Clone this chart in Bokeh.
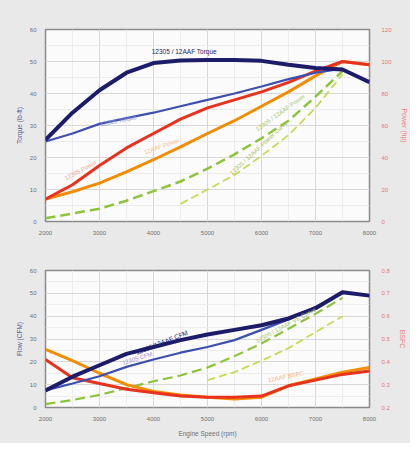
from bokeh.plotting import figure
from bokeh.layouts import column
from bokeh.models import Range1d, LinearAxis, FixedTicker
from bokeh.core.properties import value
from bokeh.embed import file_html
from bokeh.resources import INLINE

# ---------------- data ----------------
rpm = [2000, 2500, 3000, 3500, 4000, 4500, 5000, 5500, 6000, 6500, 7000, 7500, 8000]
x_ticks = [2000, 3000, 4000, 5000, 6000, 7000, 8000]

# top chart (torque, lb-ft on left; power, hp on right)
torque_combo = [25.5, 34, 41, 46.5, 49.5, 50.3, 50.5, 50.5, 50.2, 49, 48, 47.5, 43.5]
torque_12305 = [25, 27.5, 30.5, 32.3, 34, 36, 38, 40, 42.2, 44.5, 46.5, 47.8]
power_12305 = [14, 23, 35, 46, 55, 64, 71, 76, 81, 87, 94, 100, 98]
power_12aaf = [14, 18.6, 24, 31, 38.6, 46.6, 55, 63, 72, 81, 91, 100, 98]
rpm_curve_a = [2000, 2500, 3000, 3500, 4000, 4500, 5000, 5500, 6000, 6500, 7000, 7500]
power_curve_a = [2, 5, 8, 13, 19, 25, 33, 42, 52, 63, 78, 94]
rpm_curve_b = [4500, 5000, 5500, 6000, 6500, 7000, 7500]
power_curve_b = [11, 20, 29, 41, 54, 71, 92]

# bottom chart (flow on left; BSFC on right)
flow_combo = [7.5, 13.5, 18.5, 23.5, 26.5, 29.5, 32, 34, 36, 39, 43.5, 50.5, 49]
flow_12305 = [7.5, 10.5, 13.7, 17.8, 21, 24, 26.5, 29.5, 34, 38.5, 44, 50]
flow_curve_a = [1.5, 3.3, 5.5, 8.5, 11.5, 14, 17.5, 22.5, 28, 34.5, 41, 48]
rpm_flow_b = [5000, 5500, 6000, 6500, 7000, 7500]
flow_curve_b = [12, 15.5, 20.5, 26, 33, 40]
bsfc_12aaf = [0.455, 0.405, 0.35, 0.30, 0.27, 0.255, 0.245, 0.237, 0.245, 0.295, 0.325, 0.355, 0.375]
bsfc_12305 = [0.41, 0.33, 0.305, 0.28, 0.265, 0.25, 0.245, 0.245, 0.25, 0.295, 0.32, 0.345, 0.36]

left_ticks = [0, 10, 20, 30, 40, 50, 60]
power_ticks = [0, 20, 40, 60, 80, 100, 120]
bsfc_ticks = [0.2, 0.3, 0.4, 0.5, 0.6, 0.7, 0.8]

NAVY = "#1c1c6a"
BLUE = "#3d4fb0"
RED = "#e8321e"
ORANGE = "#f28c00"
GREEN = "#8cc43c"
LGREEN = "#c9d957"
BG = "#e9e9e9"
FONT = "Liberation Sans"


def style(p, right_range_name, right_ticks, right_label, left_label):
    p.background_fill_color = "#fbfbfb"
    p.border_fill_color = BG
    p.outline_line_color = "#8a8a8a"
    p.outline_line_width = 1.5
    p.xaxis.ticker = FixedTicker(ticks=x_ticks, minor_ticks=list(range(2000, 8001, 500)))
    p.yaxis.ticker = FixedTicker(ticks=left_ticks, minor_ticks=list(range(0, 61, 5)))
    p.xgrid.grid_line_color = "#d8d8d8"
    p.ygrid.grid_line_color = "#d8d8d8"
    p.xgrid.minor_grid_line_color = "#ececec"
    p.ygrid.minor_grid_line_color = "#ececec"
    for ax in [p.xaxis[0], p.yaxis[0]]:
        ax.axis_line_color = None
        ax.major_tick_line_color = None
        ax.minor_tick_line_color = None
        ax.major_label_text_font = FONT
        ax.major_label_text_font_size = "6px"
        ax.major_label_text_color = "#707070"
        ax.major_label_standoff = 3
    p.yaxis.axis_label = left_label
    p.yaxis.axis_label_text_font = FONT
    p.yaxis.axis_label_text_font_size = "6.5px"
    p.yaxis.axis_label_text_font_style = "normal"
    p.yaxis.axis_label_text_color = "#5a5a90"
    p.yaxis.axis_label_standoff = 4
    ra = LinearAxis(y_range_name=right_range_name, ticker=FixedTicker(ticks=right_ticks))
    ra.axis_line_color = None
    ra.major_tick_line_color = None
    ra.minor_tick_line_color = None
    ra.major_label_text_font = FONT
    ra.major_label_text_font_size = "6px"
    ra.major_label_text_color = "#e07878"
    ra.major_label_standoff = 6
    ra.axis_label = right_label
    ra.axis_label_text_font = FONT
    ra.axis_label_text_font_size = "7px"
    ra.axis_label_text_font_style = "normal"
    ra.axis_label_text_color = "#ee8080"
    ra.axis_label_standoff = 6
    p.add_layout(ra, "right")


def label(p, x, y, txt, color, angle, size="6px", rng="default", align="center"):
    p.text(x=[x], y=[y], text=[txt], angle=angle, text_color=color,
           text_font=value(FONT), text_font_size=size, text_align=align,
           text_baseline="middle", y_range_name=rng)


# ---------------- top chart ----------------
top = figure(width=410, height=240, output_backend="svg", toolbar_location=None,
             x_range=Range1d(2000, 8000), y_range=Range1d(0, 60),
             min_border_left=45, min_border_right=34, min_border_top=29, min_border_bottom=19)
top.extra_y_ranges = {"pw": Range1d(0, 120)}
style(top, "pw", power_ticks, "Power (hp)", "Torque (lb-ft)")

top.line(rpm_curve_b, power_curve_b, y_range_name="pw", color=LGREEN, line_width=1.8, line_dash="8 4")
top.line(rpm_curve_a, power_curve_a, y_range_name="pw", color=GREEN, line_width=2.5, line_dash="10 5")
top.line(rpm, power_12aaf, y_range_name="pw", color=ORANGE, line_width=3)
top.line(rpm, power_12305, y_range_name="pw", color=RED, line_width=3)
top.line(rpm[:len(torque_12305)], torque_12305, color=BLUE, line_width=2.2)
top.line(rpm, torque_combo, color=NAVY, line_width=4)

label(top, 4570, 53, "12305 / 12AAF Torque", NAVY, 0, "6.5px")
label(top, 3350, 31.5, "12305 Torque", "#8c9ad8", 0.2)
label(top, 2650, 16, "12305 Power", "#f5a595", 0.5)
label(top, 4150, 23.5, "12AAF Power", "#f8c080", 0.35)
label(top, 6350, 34, "12305 / 12AAF Power", "#a8c868", 0.62)
label(top, 5950, 23, "12305 / 12AAF Power Curve", "#a8c060", 0.75)

# ---------------- bottom chart ----------------
bot = figure(width=410, height=203, output_backend="svg", toolbar_location=None,
             x_range=Range1d(2000, 8000), y_range=Range1d(0, 60),
             min_border_left=45, min_border_right=34, min_border_top=30, min_border_bottom=36)
bot.extra_y_ranges = {"bs": Range1d(0.2, 0.8)}
style(bot, "bs", bsfc_ticks, "BSFC", "Flow (CFM)")
bot.xaxis.axis_label = "Engine Speed (rpm)"
bot.xaxis.axis_label_text_font = FONT
bot.xaxis.axis_label_text_font_size = "6.5px"
bot.xaxis.axis_label_text_font_style = "normal"
bot.xaxis.axis_label_text_color = "#707070"
bot.xaxis.axis_label_standoff = 6

bot.line(rpm_flow_b, flow_curve_b, color=LGREEN, line_width=1.8, line_dash="8 4")
bot.line(rpm[:len(flow_curve_a)], flow_curve_a, color=GREEN, line_width=2.2, line_dash="10 5")
bot.line(rpm, bsfc_12aaf, y_range_name="bs", color=ORANGE, line_width=3)
bot.line(rpm, bsfc_12305, y_range_name="bs", color=RED, line_width=3)
bot.line(rpm[:len(flow_12305)], flow_12305, color=BLUE, line_width=2.2)
bot.line(rpm, flow_combo, color=NAVY, line_width=4)

label(bot, 4150, 28.5, "12305/12AAF CFM", NAVY, 0.38, "6.5px")
label(bot, 3700, 21.5, "12305 CFM", "#a88ad8", 0.3)
label(bot, 6450, 36, "12305 / 12AAF VE Curve", "#a8c868", 0.5)
label(bot, 6450, 13.5, "12AAF BSFC", "#f8b070", 0.2)

layout = column(top, bot, spacing=0, styles={"background-color": BG})
open("out.html", "w").write(file_html(layout, INLINE))
